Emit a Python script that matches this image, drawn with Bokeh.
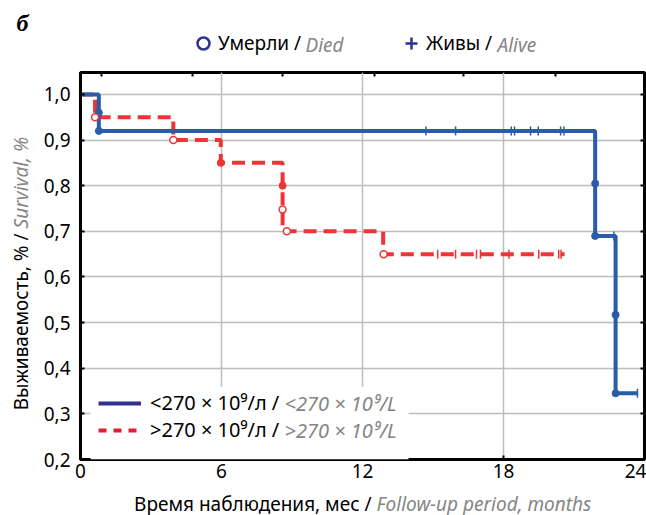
import math
from bokeh.plotting import figure
from bokeh.layouts import column, row
from bokeh.models import (Range1d, LinearAxis, FixedTicker, CustomJSTickFormatter, Label,
                          BoxAnnotation, Legend, LegendItem, Grid)
from bokeh.embed import file_html
from bokeh.resources import INLINE

# ---------------- data ----------------
low_time = [0, 0.78, 21.9, 22.77, 23.7]
low_surv = [1.0, 0.92, 0.69, 0.345, 0.345]
low_died_time = [0.78, 0.78, 21.9, 21.9, 22.77, 22.77]
low_died_surv = [0.96, 0.92, 0.805, 0.69, 0.517, 0.345]
low_cens_time = [14.7, 15.96, 18.33, 18.47, 19.15, 19.48, 20.43, 20.57, 22.7, 23.7]
low_cens_surv = [0.92, 0.92, 0.92, 0.92, 0.92, 0.92, 0.92, 0.92, 0.69, 0.345]

high_time = [0, 0.62, 3.95, 5.97, 8.6, 12.88, 20.6]
high_surv = [1.0, 0.95, 0.90, 0.85, 0.70, 0.65, 0.65]
high_died_open_time = [0.62, 3.95, 8.6, 8.78, 12.9]
high_died_open_surv = [0.95, 0.90, 0.748, 0.70, 0.65]
high_died_fill_time = [5.97, 8.6]
high_died_fill_surv = [0.85, 0.80]
high_cens_time = [15.2, 15.96, 16.85, 17.02, 18.23, 19.5, 20.35, 20.45]
high_cens_surv = [0.65, 0.65, 0.65, 0.65, 0.65, 0.65, 0.65, 0.65]

x_ticks = [0, 6, 12, 18, 24]
x_grid = [6, 12, 18]
y_ticks = [0.2, 0.3, 0.4, 0.5, 0.6, 0.7, 0.8, 0.9, 1.0]
y_grid = [0.3, 0.4, 0.5, 0.6, 0.7, 0.8, 0.9, 1.0]
top_ticks = [0.9, 4.75, 8.6, 12.5, 16.3, 20.2]

label_low = "<270 × 10⁹/л / "
label_low_en = "<270 × 10⁹/L"
label_high = ">270 × 10⁹/л / "
label_high_en = ">270 × 10⁹/L"
died_ru, died_en = "Умерли / ", "Died"
alive_ru, alive_en = "Живы / ", "Alive"
xlab_ru, xlab_en = "Время наблюдения, мес / ", "Follow-up period, months"
ylab_ru, ylab_en = "Выживаемость, % / ", "Survival, %"
panel_letter = "б"

FONT = "Noto Sans"
BLUE = "#2A5CAA"
RED = "#EE3437"
NAVY = "#2E3192"
LRED = "#E41E2D"
GREY = "#858585"
NAN = float("nan")

W = 646


def blank(width, height, x0, x1, y0, y1):
    f = figure(width=width, height=height, x_range=Range1d(x0, x1), y_range=Range1d(y0, y1),
               x_axis_type=None, y_axis_type=None, output_backend="svg", toolbar_location=None,
               min_border=0)
    f.outline_line_color = None
    f.grid.visible = False
    f.background_fill_color = "white"
    f.border_fill_color = "white"
    return f


def text(f, s, x, y, color="black", style="normal", align="left", angle=0.0, size="19px", font=FONT):
    f.add_layout(Label(x=x, y=y, text=s, angle=angle, text_font=font, text_font_size=size,
                       text_font_style=style, text_color=color, text_align=align,
                       text_baseline="middle"))


# ---------------- top strip (panel letter + marker legend) ----------------
top = blank(W, 68, 0, W, 68, 0)   # y downward = page pixels
text(top, panel_letter, 22, 22, style="bold italic", align="center", size="24px", font="Liberation Serif")
m_died = top.scatter([NAN], [NAN], marker="circle", size=11, fill_color=None, line_color=NAVY, line_width=2.5)
m_alive = top.scatter([NAN], [NAN], marker="cross", size=15, line_color=NAVY, line_width=2.5)
for rend, lab, loc in ((m_died, died_ru, (188, 10)), (m_alive, alive_ru, (396, 10))):
    top.add_layout(Legend(items=[LegendItem(label=lab, renderers=[rend])], location=loc,
                          glyph_width=30, glyph_height=30, label_standoff=-2, padding=0, margin=0,
                          background_fill_alpha=0, border_line_color=None,
                          label_text_font=FONT, label_text_font_size="19px", label_text_color="black"))
text(top, died_en, 305, 44, color=GREY, style="italic")
text(top, alive_en, 497, 44, color=GREY, style="italic")

# ---------------- left strip (y title) ----------------
left = blank(40, 422, 0, 40, 490, 68)
text(left, ylab_ru, 20, 238, align="right", angle=math.pi / 2)
text(left, ylab_en, 20, 238, color=GREY, style="italic", align="left", angle=math.pi / 2)

# ---------------- main plot ----------------
p = figure(width=606, height=422, frame_width=564, frame_height=387,
           x_range=Range1d(0, 24), y_range=Range1d(0.2, 1.048),
           x_axis_type=None, y_axis_type=None,
           output_backend="svg", toolbar_location=None,
           min_border_left=40, min_border_right=2, min_border_top=4, min_border_bottom=31)
p.background_fill_color = "white"
p.border_fill_color = "white"
p.outline_line_color = "black"
p.outline_line_width = 3

no_labels = CustomJSTickFormatter(code="return '';")
xaxis = LinearAxis(ticker=FixedTicker(ticks=x_ticks))
yaxis = LinearAxis(ticker=FixedTicker(ticks=y_ticks),
                   formatter=CustomJSTickFormatter(code="return tick.toFixed(1).replace('.', ',');"))
raxis = LinearAxis(ticker=FixedTicker(ticks=y_ticks), fixed_location=24, formatter=no_labels)
taxis = LinearAxis(ticker=FixedTicker(ticks=top_ticks), fixed_location=1.048, formatter=no_labels)
for ax in (xaxis, yaxis, raxis, taxis):
    ax.axis_line_color = "black"
    ax.axis_line_width = 3
    ax.major_tick_line_color = "black"
    ax.major_tick_line_width = 2
    ax.major_tick_in = 4
    ax.major_tick_out = 0
    ax.minor_tick_line_color = None
    ax.major_label_text_font = FONT
    ax.major_label_text_font_size = "19px"
    ax.major_label_text_color = "black"
for ax in (raxis, taxis):
    ax.major_label_standoff = 0
    ax.axis_line_color = None
xaxis.major_label_standoff = 4
yaxis.major_label_standoff = 10
p.add_layout(xaxis, "below")
p.add_layout(yaxis, "left")
p.add_layout(raxis, "right")
p.add_layout(taxis, "above")

p.add_layout(Grid(dimension=0, ticker=FixedTicker(ticks=x_grid),
                  grid_line_color="#BDBDBD", grid_line_width=1.5))
p.add_layout(Grid(dimension=1, ticker=FixedTicker(ticks=y_grid),
                  grid_line_color="#BDBDBD", grid_line_width=1.5))

p.step(high_time, high_surv, mode="after", line_color=RED, line_width=4, line_dash="13 7")
p.step(low_time, low_surv, mode="after", line_color=BLUE, line_width=4)

p.scatter(low_died_time, low_died_surv, marker="circle", size=7, fill_color=BLUE, line_color=BLUE)
p.scatter(low_cens_time, low_cens_surv, marker="dash", angle=math.pi / 2, size=9,
          line_color=BLUE, line_width=1.5)
p.scatter(high_died_open_time, high_died_open_surv, marker="circle", size=7,
          fill_color="white", line_color=RED, line_width=1.5)
p.scatter(high_died_fill_time, high_died_fill_surv, marker="circle", size=7,
          fill_color=RED, line_color=RED)
p.scatter(high_cens_time, high_cens_surv, marker="dash", angle=math.pi / 2, size=9,
          line_color=RED, line_width=1.5)


# page-pixel helpers for annotation placement inside the frame
def dx(px):
    return (px - 80) / 23.5


def dy(py):
    return 1.0 - (py - 94) / 456.0


p.add_layout(BoxAnnotation(left=dx(90), right=dx(408), bottom=0.2, top=dy(386),
                           fill_color="white", fill_alpha=1.0, line_color=None))

leg_low = p.line([NAN, NAN], [NAN, NAN], line_color=NAVY, line_width=4)
leg_high = p.line([NAN, NAN], [NAN, NAN], line_color=LRED, line_width=4, line_dash="8 7")
p.add_layout(Legend(items=[LegendItem(label=label_low, renderers=[leg_low]),
                           LegendItem(label=label_high, renderers=[leg_high])],
                    location=(18, 16), glyph_width=43, glyph_height=20,
                    label_standoff=9, spacing=0, padding=0, margin=0,
                    background_fill_alpha=0, border_line_color=None,
                    label_text_font=FONT, label_text_font_size="20px", label_text_color="black"))
text(p, label_low_en, dx(284), dy(403), color=GREY, style="italic", size="20px")
text(p, label_high_en, dx(284), dy(430), color=GREY, style="italic", size="20px")

# ---------------- bottom strip (x title) ----------------
bottom = blank(W, 25, 0, W, 515, 490)
text(bottom, xlab_ru, 376, 503, align="right")
text(bottom, xlab_en, 376, 503, color=GREY, style="italic", align="left")

layout = column(top, row(left, p), bottom)
open("out.html", "w").write(file_html(layout, INLINE))
